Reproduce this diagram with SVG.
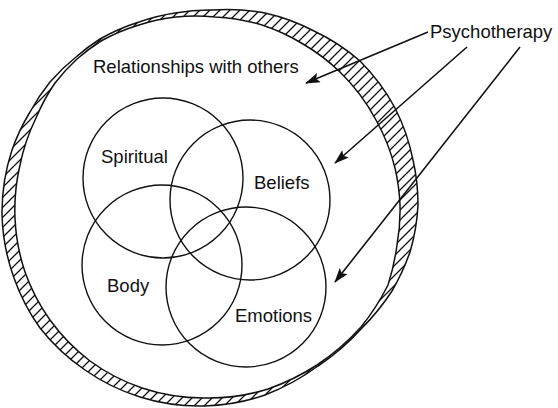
<svg xmlns="http://www.w3.org/2000/svg" width="558" height="408" viewBox="0 0 558 408">
<style>
  .ln { fill: none; stroke: #111; stroke-width: 1.5; }
  .c { fill: none; stroke: #111; stroke-width: 1.4; }
  .t { font-family: "Liberation Sans", Arial, sans-serif; font-size: 18.5px; fill: #111; }
  .ar { fill: none; stroke: #111; stroke-width: 1.6; marker-end: url(#ah); }
</style>
<defs>
  <pattern id="hatch" patternUnits="userSpaceOnUse" width="10" height="10">
    <path d="M-1,11 L11,-1 M-1,1 L1,-1 M9,11 L11,9" stroke="#111" stroke-width="1.3"/>
  </pattern>
  <marker id="ah" viewBox="0 0 15 10" refX="14" refY="5" markerWidth="15" markerHeight="10" orient="auto" markerUnits="userSpaceOnUse">
    <path d="M0,0 L15,5 L0,10 L3,5 Z" fill="#111"/>
  </marker>
  <path id="outerP" d="M2,214 A200,200 0 0 1 12,150 A200,200 0 0 1 30,112 A200,200 0 0 1 50,82 A200,200 0 0 1 76,57 A200,200 0 0 1 100,39 A200,200 0 0 1 139,22 A200,200 0 0 1 175,13 A200,200 0 0 1 212,10 A200,200 0 0 1 265,13 A200,200 0 0 1 314,31 A200,200 0 0 1 360,61 A200,200 0 0 1 395,108 A200,200 0 0 1 413,160 A200,200 0 0 1 418,205 A200,200 0 0 1 410,252 A230,230 0 0 1 392,291 A230,230 0 0 1 362,328 A230,230 0 0 1 318,366 A230,230 0 0 1 265,395 A200,200 0 0 1 205,406 A200,200 0 0 1 140,397 A200,200 0 0 1 85,370 A200,200 0 0 1 40,328 A200,200 0 0 1 14,278 A200,200 0 0 1 2,214 Z"/>
  <path id="innerP" d="M15,218 A195,195 0 0 1 20,165 A195,195 0 0 1 36,118 A195,195 0 0 1 55,83 A195,195 0 0 1 77,59 A195,195 0 0 1 101,41 A195,195 0 0 1 139,25 A195,195 0 0 1 176,17 A195,195 0 0 1 215,17 A195,195 0 0 1 262,25 A195,195 0 0 1 303,44 A195,195 0 0 1 340,72 A195,195 0 0 1 376,120 A195,195 0 0 1 395,168 A195,195 0 0 1 400,205 A195,195 0 0 1 397,245 A230,230 0 0 1 388,285 A230,230 0 0 1 361,327 A230,230 0 0 1 317,365 A230,230 0 0 1 268,389 A195,195 0 0 1 205,398 A195,195 0 0 1 142,388 A195,195 0 0 1 90,361 A195,195 0 0 1 50,320 A195,195 0 0 1 25,272 A195,195 0 0 1 15,218 Z"/>
</defs>
<rect width="558" height="408" fill="#fff"/>

<g id="relationships">
  <use href="#outerP" fill="url(#hatch)"/>
  <use href="#innerP" fill="#fff" stroke="#111" stroke-width="1.5"/>
  <use href="#outerP" class="ln"/>
  <text class="t" x="93" y="73">Relationships with others</text>
</g>

<g id="spiritual">
  <circle class="c" cx="163" cy="178" r="80"/>
  <text class="t" x="101" y="163">Spiritual</text>
</g>
<g id="beliefs">
  <circle class="c" cx="250" cy="200" r="80"/>
  <text class="t" x="254" y="189">Beliefs</text>
</g>
<g id="body">
  <circle class="c" cx="162" cy="265" r="80"/>
  <text class="t" x="107" y="292">Body</text>
</g>
<g id="emotions">
  <circle class="c" cx="246" cy="287" r="80"/>
  <text class="t" x="235" y="322">Emotions</text>
</g>

<g id="psychotherapy">
  <text class="t" x="430" y="38">Psychotherapy</text>
</g>

<g id="connectors">
  <line class="ar" x1="428" y1="32" x2="306" y2="83"/>
  <line class="ar" x1="467" y1="47" x2="335" y2="163"/>
  <line class="ar" x1="520" y1="47" x2="335" y2="282"/>
</g>
</svg>
